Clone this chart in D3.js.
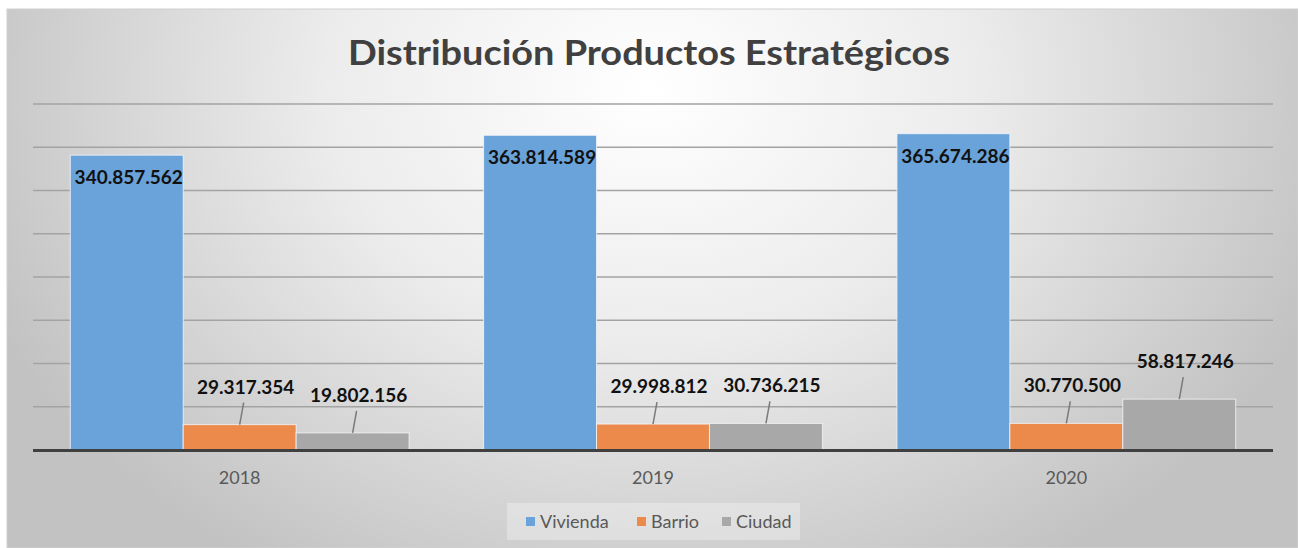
<!DOCTYPE html>
<html>
<head>
<meta charset="utf-8">
<script src="https://cdn.jsdelivr.net/npm/d3@7"></script>
<style>
  html, body { margin: 0; padding: 0; background: #fff; }
  svg { display: block; }
  text { font-family: Lato, "Open Sans", sans-serif; }
</style>
</head>
<body>
<svg id="chart" width="1298" height="548"></svg>
<script>
// data
var years = ['2018', '2019', '2020']
var seriesNames = ['Vivienda', 'Barrio', 'Ciudad']
var vivienda = [340857562, 363814589, 365674286]
var barrio = [29317354, 29998812, 30770500]
var ciudad = [19802156, 30736215, 58817246]
var gridTicks = [0, 50e6, 100e6, 150e6, 200e6, 250e6, 300e6, 350e6, 400e6]

var colors = ['#6aa3d9', '#eb8a4a', '#a8a8a8']
var values = [vivienda, barrio, ciudad]

var W = 1298, H = 548
var plot = {left: 33, right: 1273, top: 104, bottom: 450}

var svg = d3.select('#chart')

// background with the soft radial shading
var defs = svg.append('defs')
var grad = defs.append('radialGradient')
  .attr('id', 'bg')
  .attr('gradientUnits', 'userSpaceOnUse')
  .attr('cx', 650).attr('cy', 90).attr('r', 720)
  .attr('gradientTransform', 'translate(650,90) scale(1,0.78) translate(-650,-90)')
grad.append('stop').attr('offset', '0').attr('stop-color', '#ffffff')
grad.append('stop').attr('offset', '0.45').attr('stop-color', '#ececec')
grad.append('stop').attr('offset', '1').attr('stop-color', '#c2c2c2')

svg.append('rect')
  .attr('x', 7).attr('y', 9)
  .attr('width', W - 7).attr('height', H - 9)
  .attr('fill', 'url(#bg)')
  .attr('stroke', '#d0d0d0')

// title
svg.append('text')
  .attr('x', 649).attr('y', 65)
  .attr('text-anchor', 'middle')
  .attr('textLength', 602)
  .attr('lengthAdjust', 'spacingAndGlyphs')
  .style('font-size', '34px')
  .style('font-weight', 'bold')
  .style('fill', '#404040')
  .text('Distribución Productos Estratégicos')

var y = d3.scaleLinear().domain([0, 400e6]).range([plot.bottom, plot.top])
var x0 = d3.scaleBand().domain(years).range([plot.left, plot.right])
var x1 = d3.scaleBand().domain(seriesNames).range([0, x0.bandwidth()]).paddingInner(0).paddingOuter(0.33)

var fmt = d3.formatLocale({decimal: ',', thousands: '.', grouping: [3], currency: ['', '']}).format(',d')

// gridlines
svg.append('g')
  .selectAll('line')
  .data(gridTicks.slice(1))
  .enter()
  .append('line')
  .attr('x1', plot.left).attr('x2', plot.right)
  .attr('y1', function(d) { return y(d) })
  .attr('y2', function(d) { return y(d) })
  .style('stroke', '#a3a3a3')
  .style('stroke-width', 1.5)

// rows of bar data
var rows = []
years.forEach(function(yr, i) {
  seriesNames.forEach(function(s, j) {
    rows.push({year: yr, series: s, idx: j, value: values[j][i]})
  })
})

var bars = svg.append('g')
bars.selectAll('rect')
  .data(rows)
  .enter()
  .append('rect')
  .attr('x', function(d) { return x0(d.year) + x1(d.series) })
  .attr('y', function(d) { return y(d.value) })
  .attr('width', x1.bandwidth())
  .attr('height', function(d) { return y(0) - y(d.value) })
  .style('fill', function(d) { return colors[d.idx] })
  .style('stroke', '#f4f8fb')
  .style('stroke-opacity', 0.8)
  .style('stroke-width', 1)

// axis line
svg.append('line')
  .attr('x1', plot.left).attr('x2', plot.right)
  .attr('y1', y(0) + 0.5).attr('y2', y(0) + 0.5)
  .style('stroke', '#404040')
  .style('stroke-width', 3)

// category labels
svg.append('g')
  .selectAll('text')
  .data(years)
  .enter()
  .append('text')
  .attr('x', function(d) { return x0(d) + x0.bandwidth() / 2 })
  .attr('y', 484)
  .attr('text-anchor', 'middle')
  .style('font-size', '18px')
  .style('fill', '#595959')
  .text(function(d) { return d })

// data labels: big bars inside, small bars above with leader line
var labels = svg.append('g')
rows.forEach(function(d) {
  var cx = x0(d.year) + x1(d.series) + x1.bandwidth() / 2
  var top = y(d.value)
  if (d.idx === 0) {
    labels.append('text')
      .attr('x', cx + 2).attr('y', top + 29)
      .attr('text-anchor', 'middle')
      .style('font-size', '19px')
      .style('font-weight', 'bold')
      .style('fill', '#111')
      .text(fmt(d.value))
  } else {
    labels.append('line')
      .attr('x1', cx).attr('y1', top)
      .attr('x2', cx + 4).attr('y2', top - 22)
      .style('stroke', '#7a7a7a')
      .style('stroke-width', 1.5)
    labels.append('text')
      .attr('x', cx + 6).attr('y', top - 31)
      .attr('text-anchor', 'middle')
      .style('font-size', '19px')
      .style('font-weight', 'bold')
      .style('fill', '#111')
      .text(fmt(d.value))
  }
})

// legend
var legend = svg.append('g')
legend.append('rect')
  .attr('x', 507).attr('y', 503)
  .attr('width', 293).attr('height', 37)
  .style('fill', '#ffffff').style('fill-opacity', 0.3)

var legendX = [526, 637, 722]
var items = legend.selectAll('g.item')
  .data(seriesNames)
  .enter()
  .append('g')
  .attr('class', 'item')
  .attr('transform', function(d, i) { return 'translate(' + legendX[i] + ',522)' })
items.append('rect')
  .attr('x', 0).attr('y', -5)
  .attr('width', 9).attr('height', 9)
  .style('fill', function(d, i) { return colors[i] })
items.append('text')
  .attr('x', 14).attr('y', 6)
  .style('font-size', '18px')
  .style('fill', '#595959')
  .text(function(d) { return d })
</script>
</body>
</html>
